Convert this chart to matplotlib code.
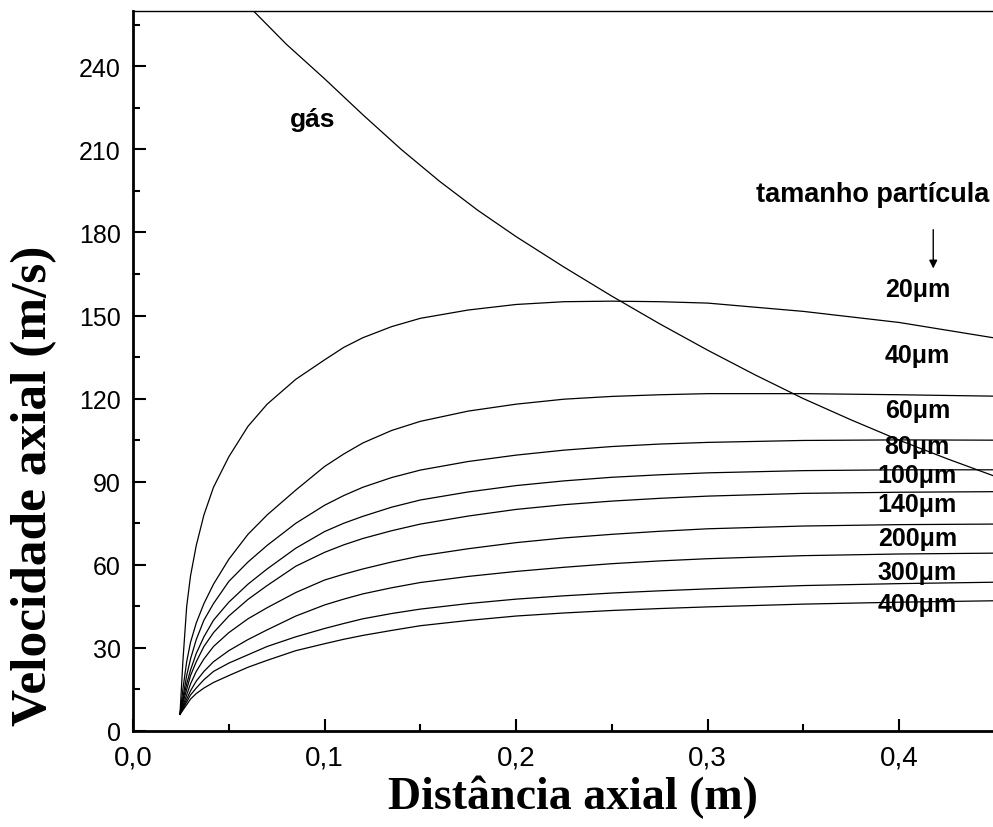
import matplotlib
matplotlib.use("Agg")
import matplotlib.pyplot as plt

# axial positions (m) where the particle velocities were sampled
x_part = [0.0245, 0.026, 0.028, 0.030, 0.033, 0.037, 0.042, 0.050, 0.060, 0.070,
          0.085, 0.100, 0.110, 0.120, 0.135, 0.150, 0.175, 0.200, 0.225, 0.250,
          0.275, 0.300, 0.350, 0.400, 0.449]

# particle axial velocity (m/s) by particle size
v_20 = [6, 25, 45, 56, 67, 78, 88, 99, 110, 118, 127, 134, 138.5, 142, 146, 149,
        152, 154, 155, 155.2, 155, 154.5, 151.5, 147.5, 142]
v_40 = [6, 15, 25, 32, 39, 46, 53, 62, 71, 78, 87, 95.5, 100, 104, 108.5, 111.8,
        115.5, 118, 119.8, 120.8, 121.4, 121.8, 121.8, 121.4, 120.9]
v_60 = [6, 12, 20, 26, 33, 40, 46, 54, 61, 67, 75, 81.5, 85, 88, 91.5, 94.2,
        97.3, 99.6, 101.4, 102.7, 103.6, 104.2, 104.9, 105.1, 105.0]
v_80 = [6, 11, 17, 22, 28, 34, 40, 46.5, 53, 58.5, 66, 72, 75, 77.5, 80.8, 83.4,
        86.3, 88.6, 90.3, 91.6, 92.5, 93.2, 94, 94.3, 94.3]
v_100 = [6, 10, 15, 20, 25, 30.5, 35.5, 41.5, 47.5, 52.5, 59.5, 64.5, 67.2, 69.5, 72.3, 74.7,
         77.6, 80, 81.7, 83, 84, 84.8, 85.8, 86.2, 86.4]
v_140 = [6, 9, 13, 17, 21.5, 26, 30.5, 35.5, 40.5, 44.5, 50, 54.5, 56.6, 58.5, 61, 63.2,
         65.8, 68, 69.7, 71, 72.1, 73, 74, 74.5, 74.7]
v_200 = [6, 8.5, 11.5, 14.5, 18, 21.5, 25, 29, 33, 36.5, 41.5, 45.5, 47.6, 49.5, 51.7, 53.6,
         55.8, 57.6, 59.1, 60.4, 61.4, 62.2, 63.3, 63.9, 64.2]
v_300 = [6, 8, 10.5, 13, 15.5, 18.5, 21.5, 24.5, 27.5, 30.5, 34, 37, 38.8, 40.5, 42.4, 44,
         46, 47.6, 48.8, 49.8, 50.6, 51.3, 52.5, 53.2, 53.7]
v_400 = [6, 7.5, 9.5, 11.5, 13.5, 15.5, 17.5, 20, 23, 25.5, 29, 31.5, 33.1, 34.5, 36.3, 38,
         39.9, 41.5, 42.6, 43.5, 44.2, 44.8, 45.8, 46.5, 47.0]

sizes = ["20", "40", "60", "80", "100", "140", "200", "300", "400"]
# label heights (m/s) for each size, placed at the right end
label_y = [159.5, 135.7, 115.8, 102.9, 92.4, 81.9, 69.6, 57.4, 45.8]

# gas axial velocity
x_gas = [0.060, 0.080, 0.100, 0.120, 0.140, 0.160, 0.180, 0.200, 0.225, 0.250,
         0.275, 0.300, 0.325, 0.350, 0.375, 0.400, 0.425, 0.449]
v_gas = [262, 248, 235.5, 222.5, 210, 198.5, 188, 178.5, 167.5, 157,
         147, 137.5, 128.5, 120, 112.3, 105, 98.3, 92.2]

x_ticks = [0.0, 0.1, 0.2, 0.3, 0.4]
x_ticklabels = ["0,0", "0,1", "0,2", "0,3", "0,4"]
y_ticks = [0, 30, 60, 90, 120, 150, 180, 210, 240]

fig = plt.figure(figsize=(9.93, 8.28), dpi=100)
ax = fig.add_axes([0.134, 0.116, 0.866, 0.8696])

for v in [v_20, v_40, v_60, v_80, v_100, v_140, v_200, v_300, v_400]:
    ax.plot(x_part, v, color="black", lw=0.9)
ax.plot(x_gas, v_gas, color="black", lw=0.9)

ax.set_xlim(0, 0.449)
ax.set_ylim(0, 260)

ax.set_xticks(x_ticks)
ax.set_xticklabels(x_ticklabels)
ax.set_xticks([0.05, 0.15, 0.25, 0.35], minor=True)
ax.set_yticks(y_ticks)
ax.set_yticks([15, 45, 75, 105, 135, 165, 195, 225, 255], minor=True)
ax.tick_params(which="major", direction="in", length=9, width=1.5)
ax.tick_params(which="minor", direction="in", length=5, width=1.5)
ax.tick_params(axis="x", which="major", labelsize=20, pad=10)
ax.tick_params(axis="y", which="major", labelsize=18, pad=9)
for lab in ax.get_xticklabels() + ax.get_yticklabels():
    lab.set_family("Liberation Sans")

ax.spines["right"].set_visible(False)
ax.spines["left"].set_linewidth(2)
ax.spines["bottom"].set_linewidth(2)
ax.spines["top"].set_linewidth(1)

serif = dict(family="Liberation Serif", weight="bold")
fig.text(0.034, 1 - 486 / 828, "Velocidade axial (m/s)", rotation=90,
         ha="center", va="center", fontsize=37, **serif)
fig.text(0.577, 1 - 797 / 828, "Distância axial (m)", ha="center", va="center",
         fontsize=33, **serif)

sans = dict(family="Liberation Sans", weight="bold")
ax.text(0.094, 221, "gás", ha="center", va="center", fontsize=19, **sans)
ax.text(0.386, 194, "tamanho partícula", ha="center", va="center", fontsize=19.5, **sans)
ax.annotate("", xy=(0.4178, 166), xytext=(0.4178, 182),
            arrowprops=dict(arrowstyle="-|>", color="black", lw=1, mutation_scale=12))
for s, y in zip(sizes, label_y):
    ax.text(0.4095, y, s + "μm", ha="center", va="center", fontsize=18, **sans)

fig.savefig("out.png", dpi=100)
